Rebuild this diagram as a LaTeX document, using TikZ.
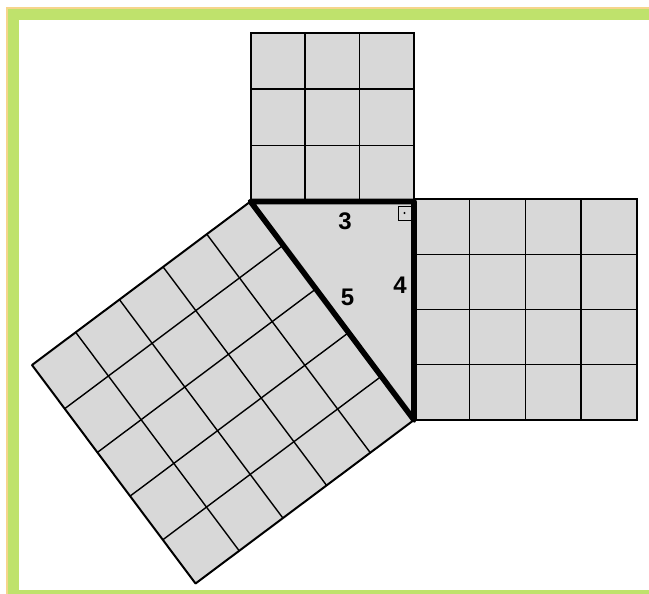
\documentclass[tikz,border=0pt]{standalone}
\usepackage{fontspec}
\setmainfont{Liberation Sans}
\usetikzlibrary{calc}
\definecolor{framegreen}{HTML}{BFE26C}
\definecolor{frameorange}{HTML}{F6D58C}
\definecolor{sqgray}{HTML}{D8D8D8}
\begin{document}
\begin{tikzpicture}[x=1pt,y=-1pt,
  gridline/.style={line width=1.4pt},
  edge/.style={line width=2pt},
  leg/.style={line width=5.6pt, line join=round},
  lbl/.style={font=\bfseries\fontsize{24}{24}\selectfont, inner sep=0pt}]
\useasboundingbox (0,0) rectangle (649,594);
\clip (0,0) rectangle (649,594);
\fill[white] (0,0) rectangle (649,594);
% frame
\fill[frameorange] (6,7.5) rectangle (649,594);
\fill[framegreen] (7.5,9) rectangle (649,594);
\fill[white] (19,20.5) rectangle (649,590);
% key points
\coordinate (A) at (250.5,201.5);
\coordinate (C) at (414,201.5);
\coordinate (B) at (414,420);
\coordinate (Ap) at (32,365);
\coordinate (Bp) at (195.5,583.5);
% top square (3x3)
\filldraw[fill=sqgray, edge] (250.5,33) rectangle (414,201.5);
\foreach \x in {305,359.5} \draw[gridline] (\x,33) -- (\x,201.5);
\foreach \y in {89.2,145.3} \draw[gridline] (250.5,\y) -- (414,\y);
\draw[edge] (250.5,33) rectangle (414,201.5);
% right square (4x4)
\filldraw[fill=sqgray, edge] (414,199) rectangle (636.5,420);
\foreach \x in {469.6,525.25,580.9} \draw[gridline] (\x,199) -- (\x,420);
\foreach \y in {254.25,309.5,364.75} \draw[gridline] (414,\y) -- (636.5,\y);
\draw[edge] (414,199) rectangle (636.5,420);
% big square (5x5)
\fill[sqgray] (A) -- (B) -- (Bp) -- (Ap) -- cycle;
\foreach \k in {1,...,4} {
  \draw[gridline] ($(A)!\k/5!(B)$) -- ($(Ap)!\k/5!(Bp)$);
  \draw[gridline] ($(A)!\k/5!(Ap)$) -- ($(B)!\k/5!(Bp)$);
}
\draw[edge, line join=round] (A) -- (Ap) -- (Bp) -- (B);
% triangle
\fill[sqgray] (A) -- (C) -- (B) -- cycle;
\draw[leg] (A) -- (C) -- (B) -- cycle;
% right angle mark
\draw[line width=0.9pt] (398,206) rectangle (411,220);
\fill (404.5,213) circle (1.2);
% labels
\node[lbl] (l3) at (345,221) {3};
\node[lbl] (l4) at (400,285.5) {4};
\node[lbl] (l5) at (347.5,297) {5};
\end{tikzpicture}
\end{document}
